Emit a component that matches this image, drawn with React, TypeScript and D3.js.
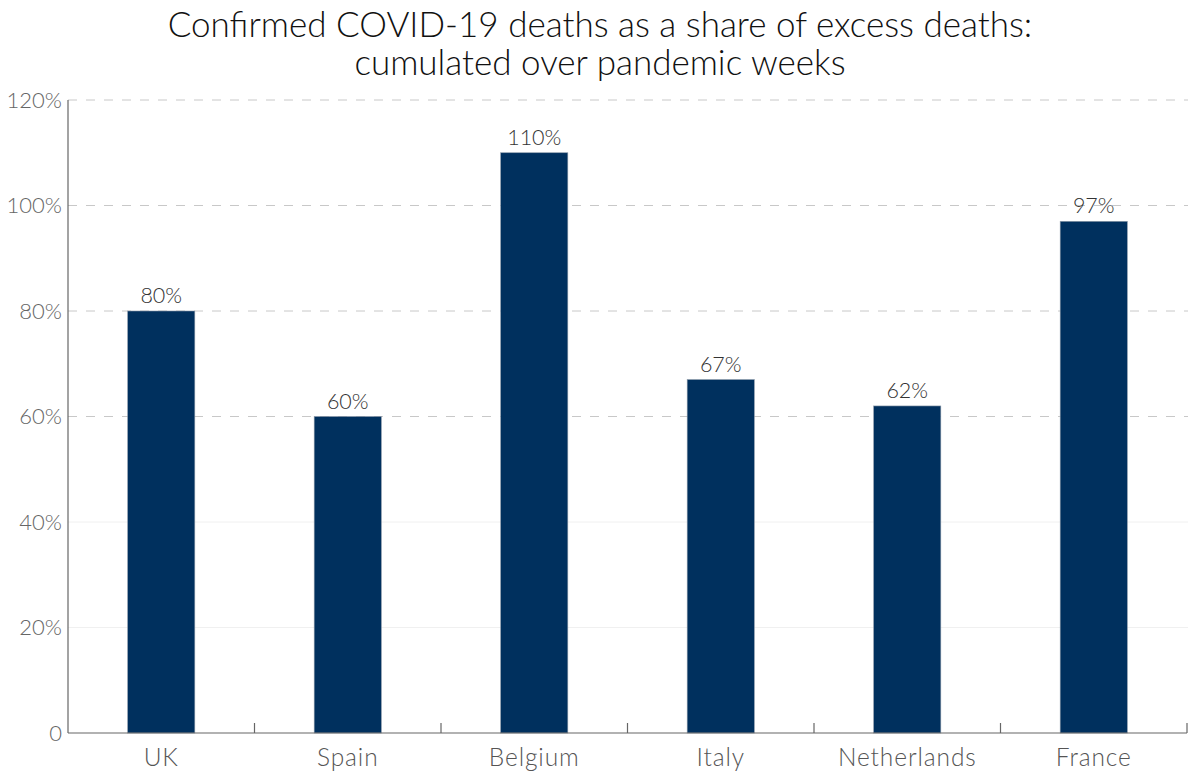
import React from "react";
import * as d3 from "d3";

const countries = ["UK", "Spain", "Belgium", "Italy", "Netherlands", "France"];
const shares = [80, 60, 110, 67, 62, 97];
const yTicks = [0, 20, 40, 60, 80, 100, 120];
const titleLines = [
  "Confirmed COVID-19 deaths as a share of excess deaths:",
  "cumulated over pandemic weeks",
];

const W = 1188;
const H = 773;
const margin = { left: 68, right: 1, top: 100, bottom: 40 };
const FONT = "Lato, 'Open Sans', sans-serif";

export default function App() {
  const x = d3
    .scaleBand<string>()
    .domain(countries)
    .range([margin.left, W - margin.right])
    .paddingInner(0.64)
    .paddingOuter(0.32);
  const y = d3
    .scaleLinear()
    .domain([0, 120])
    .range([H - margin.bottom, margin.top]);

  const step = x.step();
  const boundaries = countries.map((_, i) => margin.left + (i + 1) * step);

  return (
    <svg
      width={W}
      height={H}
      style={{ position: "absolute", left: 0, top: 0, background: "#fff" }}
      fontFamily={FONT}
    >
      {/* title */}
      {titleLines.map((t, i) => (
        <text
          key={t}
          x={600}
          y={37 + i * 38}
          textAnchor="middle"
          fontSize={35}
          fontWeight={300}
          fill="#111"
        >
          {t}
        </text>
      ))}

      {/* gridlines */}
      {yTicks
        .filter((v) => v > 0)
        .map((v) => (
          <line
            key={v}
            x1={margin.left}
            x2={W}
            y1={y(v)}
            y2={y(v)}
            stroke={v <= 40 ? "#f0f0f0" : "#c8c8c8"}
            strokeWidth={1}
            strokeDasharray={v <= 40 ? undefined : "9 9"}
          />
        ))}

      {/* y tick labels */}
      {yTicks.map((v) => (
        <text
          key={v}
          x={margin.left - 6}
          y={y(v)}
          dy="0.35em"
          textAnchor="end"
          fontSize={22}
          fontWeight={300}
          fill="#666"
        >
          {v === 0 ? "0" : `${v}%`}
        </text>
      ))}

      {/* bars */}
      {countries.map((c, i) => (
        <rect
          key={c}
          x={x(c)}
          y={y(shares[i])}
          width={x.bandwidth()}
          height={y(0) - y(shares[i])}
          fill="#00305e"
          stroke="#8a98a8"
          strokeWidth={0.6}
        />
      ))}

      {/* value labels */}
      {countries.map((c, i) => (
        <text
          key={c}
          x={(x(c) ?? 0) + x.bandwidth() / 2}
          y={y(shares[i]) - 8}
          textAnchor="middle"
          fontSize={21.5}
          fontWeight={300}
          fill="#333"
        >
          {shares[i]}%
        </text>
      ))}

      {/* axes */}
      <line
        x1={margin.left}
        x2={margin.left}
        y1={y(120)}
        y2={y(0)}
        stroke="#666"
        strokeWidth={1.2}
      />
      <line
        x1={margin.left}
        x2={W - margin.right}
        y1={y(0)}
        y2={y(0)}
        stroke="#666"
        strokeWidth={1.2}
      />
      {boundaries.map((bx) => (
        <line
          key={bx}
          x1={bx}
          x2={bx}
          y1={y(0)}
          y2={y(0) - 10}
          stroke="#666"
          strokeWidth={1.2}
        />
      ))}

      {/* category labels */}
      {countries.map((c) => (
        <text
          key={c}
          x={(x(c) ?? 0) + x.bandwidth() / 2}
          y={766}
          textAnchor="middle"
          fontSize={24.5}
          fontWeight={300}
          letterSpacing={0.9}
          fill="#555"
        >
          {c}
        </text>
      ))}
    </svg>
  );
}
